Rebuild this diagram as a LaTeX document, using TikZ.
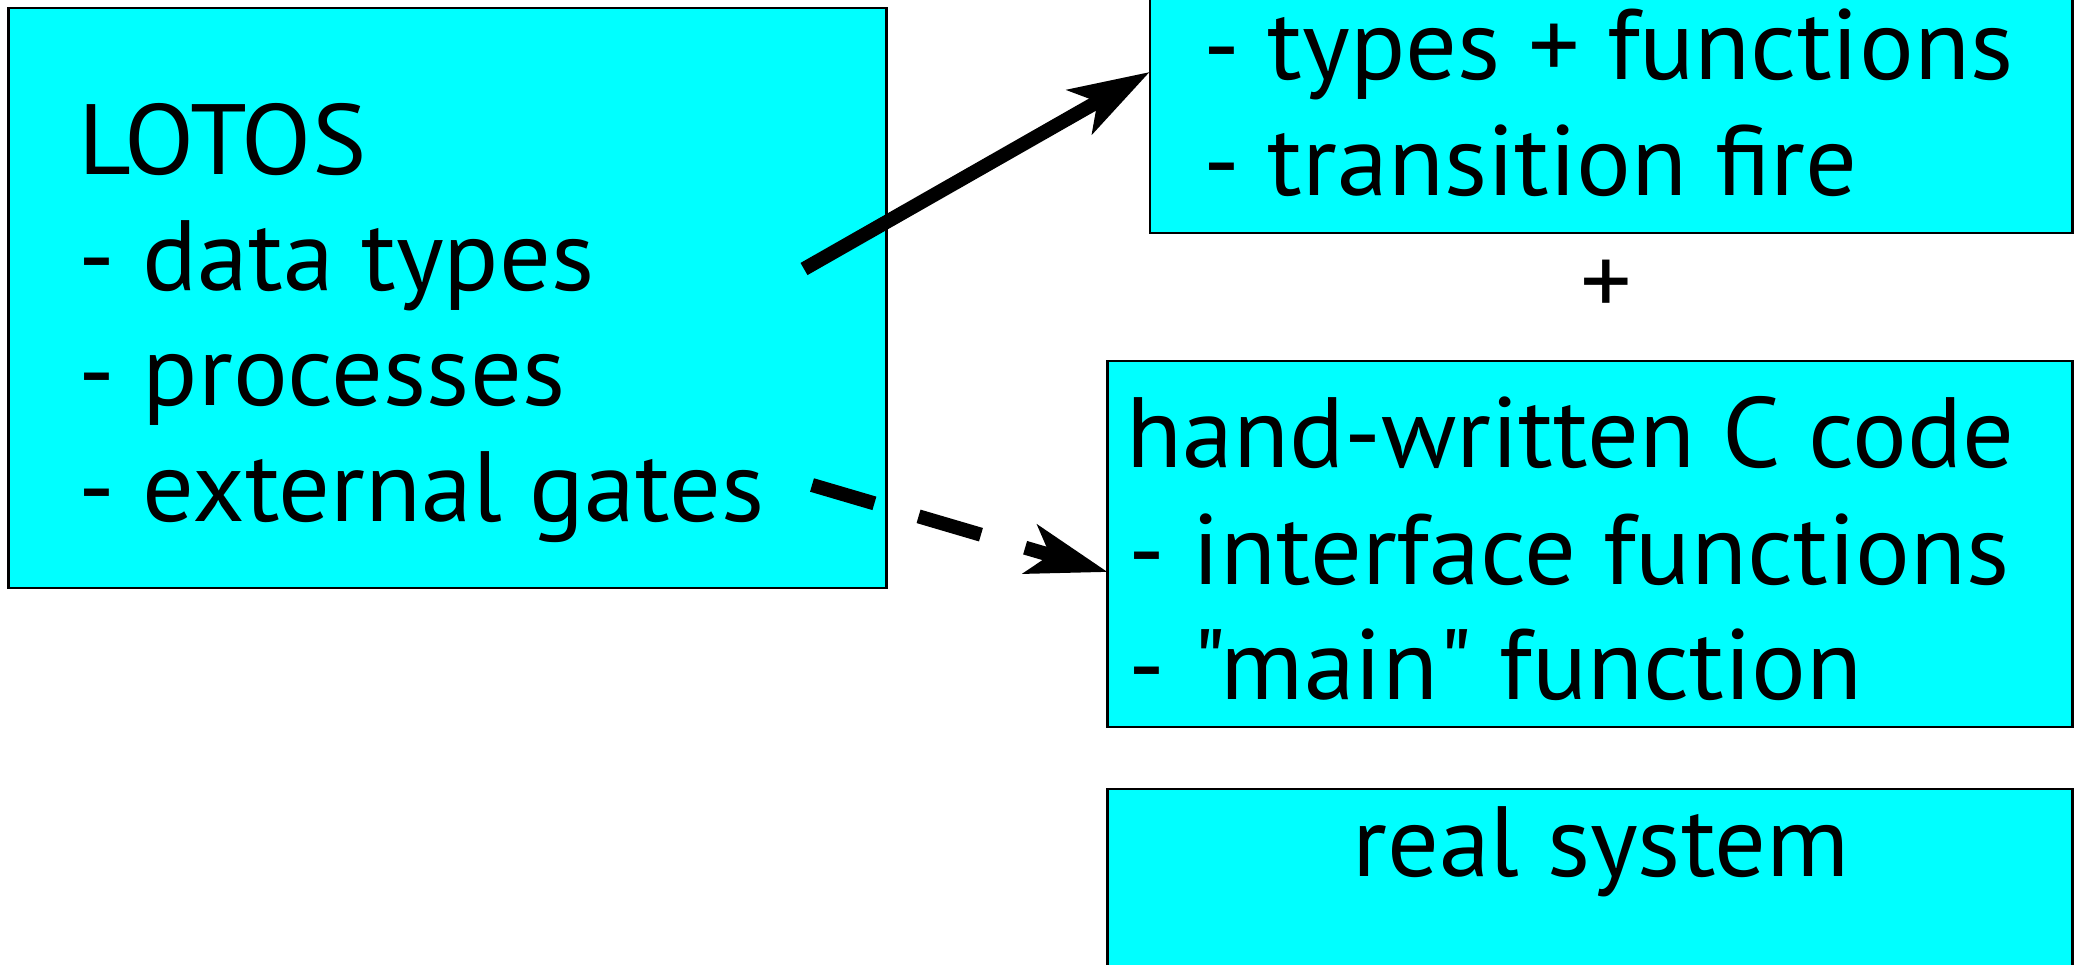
\documentclass[tikz,border=0pt]{standalone}
\usepackage{fontspec}
\setmainfont{PT Sans}[Ligatures=TeXOff, FakeStretch=1.025]
\usetikzlibrary{arrows.meta}
\definecolor{boxcyan}{RGB}{0,255,255}
\begin{document}
\begin{tikzpicture}[x=0.01cm,y=-0.01cm,
  box/.style={draw=black, line width=0.025cm, fill=boxcyan, inner sep=0pt, outer sep=0pt},
  txt/.style={anchor=base west, inner sep=0pt, font=\fontsize{28.4pt}{34pt}\selectfont},
  ctxt/.style={txt, anchor=base},
  conn/.style={line width=0.14cm, -{Stealth[length=0.8cm,width=0.5cm,inset=0.2cm]}},
  dashconn/.style={conn, dash pattern=on 0.65cm off 0.46cm}]
\useasboundingbox (0,0) rectangle (2080,964);

% boxes
\node[box, minimum width=8.77cm, minimum height=5.80cm] (lotos) at (447.5,298) {};
\node[box, minimum width=9.22cm, minimum height=2.53cm] (gen) at (1611,106.5) {};
\node[box, minimum width=9.64cm, minimum height=3.66cm] (hand) at (1590,544) {};
\node[box, minimum width=9.64cm, minimum height=2.01cm] (real) at (1590,889.5) {};

% LOTOS specification
\node[txt] (l1) at (78,175) {LOTOS};
\node[txt] (l2) at (78,291) {- data types};
\node[txt] (l3) at (78,406) {- processes};
\node[txt] (l4) at (78,521) {- external gates};

% generated code
\node[txt] (g1) at (1203,80) {- types + functions};
\node[txt] (g2) at (1203,196) {- transition fire};

\node[inner sep=0pt, font=\fontsize{28.4pt}{34pt}\selectfont] (plus) at (1606,288) {+};

% hand-written code
\node[txt] (h1) at (1126,467) {hand-written C code};
\node[txt] (h2) at (1128,584) {- interface functions};
\node[txt] (h3) at (1128,699) {- "main" function};

\node[ctxt] (r1) at (1601,876) {real system};

% connectors
\coordinate (s1) at (804,269);
\coordinate (s2) at (812,485);
\draw[conn] (s1) -- (gen.west |- 0,72);
\draw[dashconn] (s2) -- (hand.west |- 0,572);
\end{tikzpicture}
\end{document}
